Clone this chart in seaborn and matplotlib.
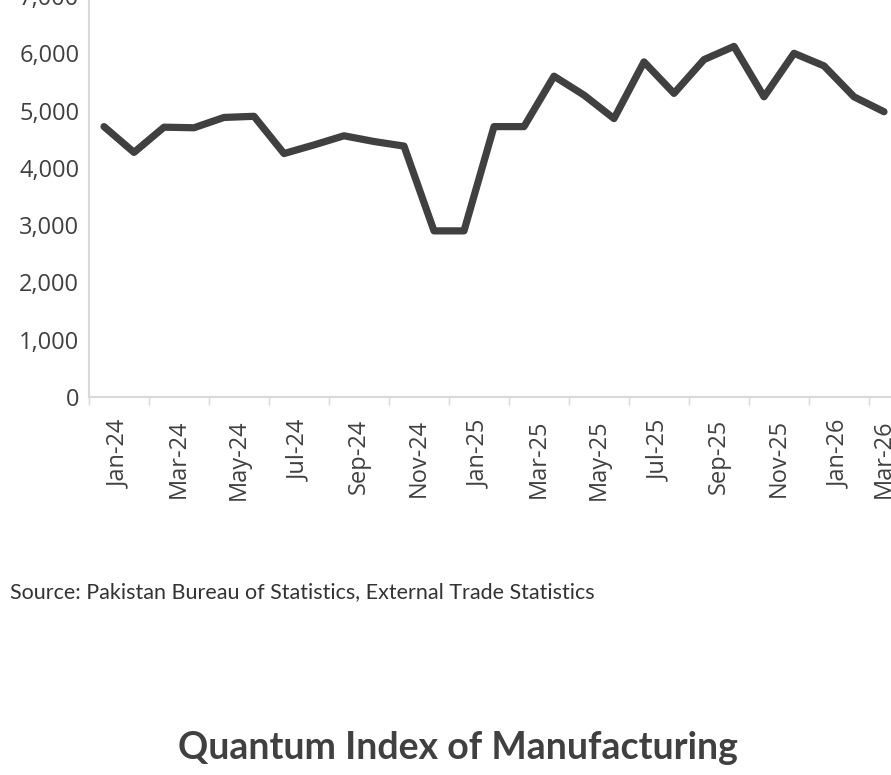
import matplotlib
matplotlib.use("Agg")
import matplotlib.pyplot as plt
from matplotlib.font_manager import FontProperties
import numpy as np
import pandas as pd
import seaborn as sns

months = ["Jan-24", "Feb-24", "Mar-24", "Apr-24", "May-24", "Jun-24", "Jul-24",
          "Aug-24", "Sep-24", "Oct-24", "Nov-24", "Dec-24", "Jan-25", "Feb-25",
          "Mar-25", "Apr-25", "May-25", "Jun-25", "Jul-25", "Aug-25", "Sep-25",
          "Oct-25", "Nov-25", "Dec-25", "Jan-26", "Feb-26", "Mar-26"]
values = [4720, 4270, 4710, 4700, 4880, 4900, 4250, 4400, 4560, 4460, 4380,
          2900, 2900, 4720, 4720, 5600, 5270, 4860, 5850, 5300, 5890, 6120,
          5240, 6000, 5780, 5240, 4980]
yticks = [0, 1000, 2000, 3000, 4000, 5000, 6000, 7000]

df = pd.DataFrame({"month": months, "value": values})
df["pos"] = range(len(df))

sns.set_style("white")
plt.rcParams['font.family'] = ['Open Sans', 'DejaVu Sans']

tick_font = FontProperties(family="Open Sans", size=17)

fig = plt.figure(figsize=(8.91, 7.75), dpi=100)
ax = fig.add_axes([89 / 891, 1 - 397 / 775, 810 / 891, 401 / 775])

sns.lineplot(data=df, x="pos", y="value", ax=ax, color="#404040", linewidth=5.2,
             solid_capstyle="round", solid_joinstyle="round")

ax.set_xlim(-0.5, len(months) - 0.5)
ax.set_ylim(0, 7000)
ax.set_xlabel("")
ax.set_ylabel("")

# tick marks between categories, every 2 months
ax.set_xticks(np.arange(-0.5, len(months), 2))
ax.set_xticklabels([])
label_pos = []
label_txt = []
for i in range(0, len(months), 2):
    label_pos.append(i + 0.5 if i + 1 < len(months) else i)
    label_txt.append(months[i])
ax.set_xticks(label_pos, minor=True)
ax.set_xticklabels(label_txt, minor=True, rotation=90, color="#404040",
                   fontproperties=tick_font)
ax.tick_params(axis="x", which="major", length=6, width=1, color="#d9d9d9",
               direction="out", bottom=True)
ax.tick_params(axis="x", which="minor", length=0, pad=16)

ax.set_yticks(yticks)
ax.set_yticklabels([f"{v:,}" for v in yticks], color="#404040",
                   fontproperties=tick_font)
ax.tick_params(axis="y", length=0, pad=7)

for s in ["top", "right"]:
    ax.spines[s].set_visible(False)
for s in ["left", "bottom"]:
    ax.spines[s].set_color("#d9d9d9")
    ax.spines[s].set_linewidth(1.5)

fig.text(10 / 891, 1 - 592 / 775, "Source: Pakistan Bureau of Statistics, External Trade Statistics",
         fontsize=15.5, color="#333333", family="Lato", va="center", ha="left")
fig.text(458 / 891, 1 - 748 / 775, "Quantum Index of Manufacturing",
         fontsize=27, fontweight="bold", color="#404040", family="Lato",
         va="center", ha="center")

fig.savefig("out.png", dpi=100)
